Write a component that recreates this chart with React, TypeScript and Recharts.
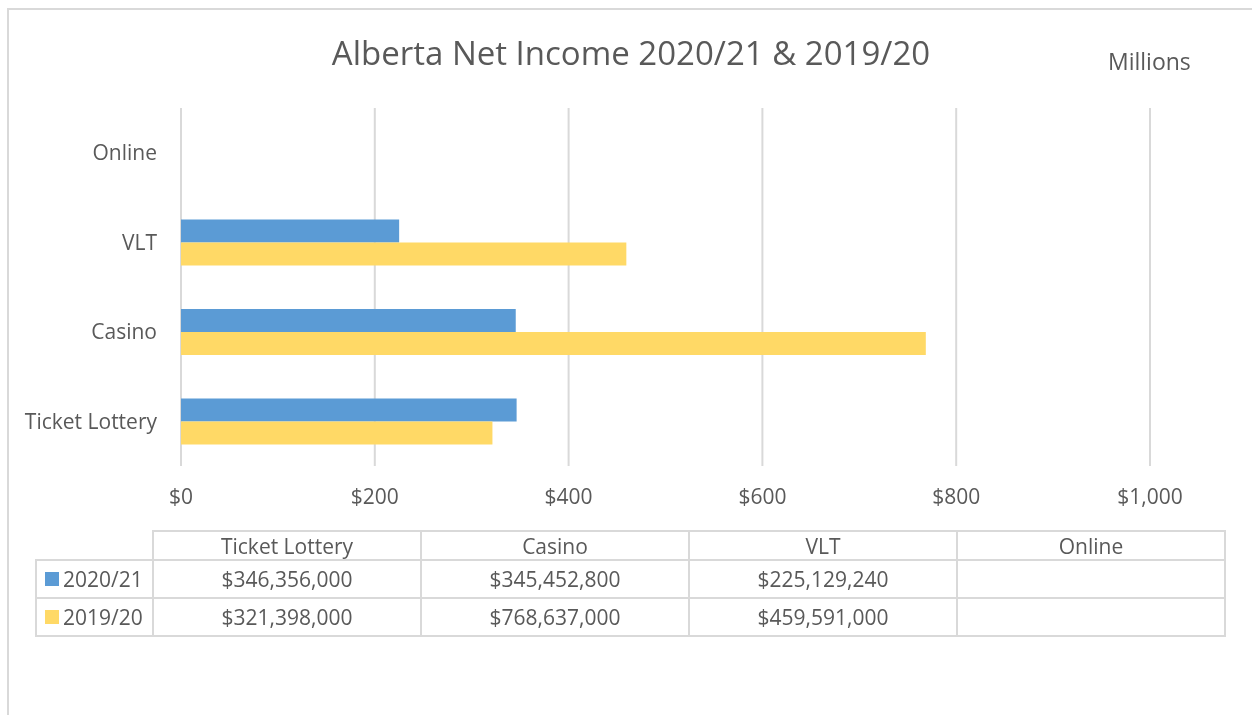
import React from 'react';
import { BarChart, Bar, XAxis, YAxis, CartesianGrid } from 'recharts';

const categories = ['Ticket Lottery', 'Casino', 'VLT', 'Online'];
const income2021 = [346356000, 345452800, 225129240, null];
const income1920 = [321398000, 768637000, 459591000, null];
const xTicks = [0, 200, 400, 600, 800, 1000];

const BLUE = '#5B9BD5';
const YELLOW = '#FFD966';
const TEXT = '#595959';
const LINE = '#d9d9d9';
const FONT = '"Open Sans", sans-serif';

// chart shows millions, Online sits on top so reverse the order
const chartData = categories
  .map((c, i) => ({
    cat: c,
    y2021: income2021[i] == null ? null : (income2021[i] as number) / 1e6,
    y1920: income1920[i] == null ? null : (income1920[i] as number) / 1e6,
  }))
  .reverse();

const fmtDollars = (v: number | null) => (v == null ? '' : '$' + v.toLocaleString('en-US'));

// table geometry (container coords)
const colEdges = [28, 145, 413, 681, 949, 1217];
const rowEdges = [523, 552, 590, 628];

const DataTable: React.FC = () => {
  const lines: React.ReactNode[] = [];
  rowEdges.forEach((y, r) => {
    const x0 = r === 0 ? colEdges[1] : colEdges[0];
    lines.push(
      <div key={'h' + r} style={{ position: 'absolute', left: x0, top: y - 1, width: colEdges[5] - x0 + 1, height: 2, background: LINE }} />
    );
  });
  colEdges.forEach((x, c) => {
    const y0 = c === 0 ? rowEdges[1] : rowEdges[0];
    lines.push(
      <div key={'v' + c} style={{ position: 'absolute', left: x - 1, top: y0 - 1, width: 2, height: rowEdges[3] - y0 + 2, background: LINE }} />
    );
  });
  const cell = (text: string, c: number, r: number, key: string) => (
    <div
      key={key}
      style={{
        position: 'absolute',
        left: colEdges[c],
        width: colEdges[c + 1] - colEdges[c],
        top: rowEdges[r],
        height: rowEdges[r + 1] - rowEdges[r],
        display: 'flex',
        alignItems: 'center',
        justifyContent: 'center',
        fontSize: 21,
        color: TEXT,
      }}
    >
      {text}
    </div>
  );
  const series = [
    { name: '2020/21', color: BLUE, values: income2021 },
    { name: '2019/20', color: YELLOW, values: income1920 },
  ];
  return (
    <>
      {lines}
      {categories.map((c, i) => cell(c, i + 1, 0, 'hd' + i))}
      {series.map((s, r) => (
        <React.Fragment key={s.name}>
          <div
            style={{
              position: 'absolute',
              left: colEdges[0] + 9,
              top: rowEdges[r + 1],
              height: rowEdges[r + 2] - rowEdges[r + 1],
              display: 'flex',
              alignItems: 'center',
              fontSize: 21,
              color: TEXT,
            }}
          >
            <span style={{ display: 'inline-block', width: 14, height: 14, background: s.color, marginRight: 4 }} />
            {s.name}
          </div>
          {s.values.map((v, i) => cell(fmtDollars(v), i + 1, r + 1, s.name + i))}
        </React.Fragment>
      ))}
    </>
  );
};

export default function App() {
  return (
    <div style={{ position: 'relative', width: 1244, height: 699, overflow: 'hidden', fontFamily: FONT, background: '#fff' }}>
      <div style={{ position: 'fixed', left: 7, top: 8, width: 1400, height: 900, borderLeft: `2px solid ${LINE}`, borderTop: `2px solid ${LINE}` }} />
      <div style={{ position: 'absolute', left: 0, top: 24, width: 1246, textAlign: 'center', fontSize: 33, color: TEXT, lineHeight: '42px' }}>
        Alberta Net Income 2020/21 &amp; 2019/20
      </div>
      <div style={{ position: 'absolute', left: 1100, top: 38, fontSize: 23, color: TEXT, lineHeight: '30px' }}>Millions</div>
      <div style={{ position: 'absolute', left: 0, top: 0 }}>
        <BarChart
          width={1244}
          height={520}
          data={chartData}
          layout="vertical"
          margin={{ top: 100, right: 102, bottom: 22, left: 0 }}
          barSize={23}
          barGap={0}
        >
          <CartesianGrid horizontal={false} stroke={LINE} strokeWidth={2} />
          <XAxis
            type="number"
            domain={[0, 1000]}
            ticks={xTicks}
            tickFormatter={(v: number) => '$' + v.toLocaleString('en-US')}
            axisLine={false}
            tickLine={false}
            tickMargin={17}
            height={40}
            tick={{ fontSize: 21, fill: TEXT, fontFamily: FONT }}
          />
          <YAxis
            type="category"
            dataKey="cat"
            width={173}
            axisLine={false}
            tickLine={false}
            tickMargin={18}
            tick={{ fontSize: 21, fill: TEXT, fontFamily: FONT }}
          />
          <Bar dataKey="y2021" name="2020/21" fill={BLUE} isAnimationActive={false} />
          <Bar dataKey="y1920" name="2019/20" fill={YELLOW} isAnimationActive={false} />
        </BarChart>
      </div>
      <DataTable />
    </div>
  );
}
